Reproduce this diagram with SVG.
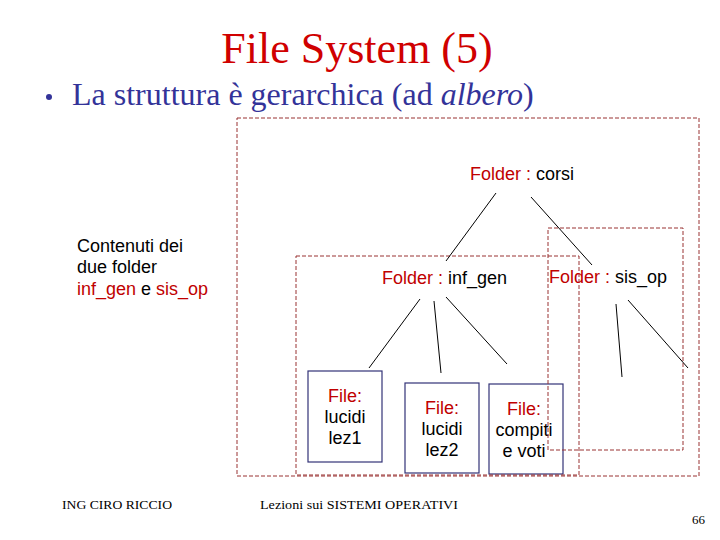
<svg xmlns="http://www.w3.org/2000/svg" width="720" height="540" viewBox="0 0 720 540">
<style>
.sans{font-family:"Liberation Sans",Arial,sans-serif;font-size:18px;fill:#000}
.red{fill:#c00000}
.serif{font-family:"Liberation Serif","Times New Roman",serif}
.dash{fill:none;stroke:#993333;stroke-width:1;stroke-dasharray:4 2}
.box{fill:none;stroke:#333377;stroke-width:1.2}
.edge{stroke:#000;stroke-width:1;fill:none}
</style>
<rect width="720" height="540" fill="#fff"/>
<text x="357" y="63" text-anchor="middle" class="serif" font-size="44" fill="#d00000">File System (5)</text>
<g id="bullet">
<circle cx="49" cy="97" r="3" fill="#333399"/>
<text x="72" y="105" class="serif" font-size="32" fill="#333399">La struttura è gerarchica (ad <tspan font-style="italic">albero</tspan>)</text>
</g>
<g id="note">
<text class="sans" x="77" y="252">Contenuti dei</text>
<text class="sans" x="77" y="273">due folder</text>
<text class="sans" x="77" y="295"><tspan class="red">inf_gen</tspan> e <tspan class="red">sis_op</tspan></text>
</g>
<g id="files">
<g id="file-lez1">
<rect class="box" x="308" y="371" width="74" height="91"/>
<text class="sans" text-anchor="middle" x="345" y="402"><tspan class="red">File:</tspan></text>
<text class="sans" text-anchor="middle" x="345" y="423">lucidi</text>
<text class="sans" text-anchor="middle" x="345" y="444">lez1</text>
</g>
<g id="file-lez2">
<rect class="box" x="405" y="383" width="74" height="90"/>
<text class="sans" text-anchor="middle" x="442" y="414"><tspan class="red">File:</tspan></text>
<text class="sans" text-anchor="middle" x="442" y="435">lucidi</text>
<text class="sans" text-anchor="middle" x="442" y="456">lez2</text>
</g>
<g id="file-compiti">
<rect class="box" x="489" y="384" width="74" height="90"/>
<text class="sans" text-anchor="middle" x="524" y="415"><tspan class="red">File:</tspan></text>
<text class="sans" text-anchor="middle" x="524" y="436">compiti</text>
<text class="sans" text-anchor="middle" x="524" y="457">e voti</text>
</g>
</g>
<g id="folders">
<rect id="corsi-area" class="dash" x="237" y="118" width="462" height="358"/>
<rect id="inf_gen-area" class="dash" x="296" y="256" width="283" height="219"/>
<rect id="sis_op-area" class="dash" x="548" y="228" width="135" height="222"/>
<g id="folder-corsi"><text class="sans" x="470" y="180"><tspan class="red">Folder :</tspan> corsi</text></g>
<g id="folder-inf_gen"><text class="sans" x="382" y="284"><tspan class="red">Folder :</tspan> inf_gen</text></g>
<g id="folder-sis_op"><text class="sans" x="549" y="283"><tspan class="red">Folder :</tspan> sis_op</text></g>
</g>
<g id="connectors" class="edge">
<line x1="496" y1="193" x2="446" y2="261"/>
<line x1="531" y1="197" x2="592" y2="265"/>
<line x1="420" y1="299" x2="369" y2="368"/>
<line x1="434" y1="301" x2="441" y2="373"/>
<line x1="446" y1="297" x2="507" y2="364"/>
<line x1="616" y1="304" x2="622" y2="377"/>
<line x1="628" y1="300" x2="688" y2="368"/>
</g>
<g id="footer" class="serif" font-size="13" fill="#000">
<text x="62" y="509" textLength="110" lengthAdjust="spacingAndGlyphs">ING CIRO RICCIO</text>
<text x="260" y="509" textLength="198" lengthAdjust="spacingAndGlyphs">Lezioni sui SISTEMI OPERATIVI</text>
<text x="692" y="524">66</text>
</g>
</svg>
